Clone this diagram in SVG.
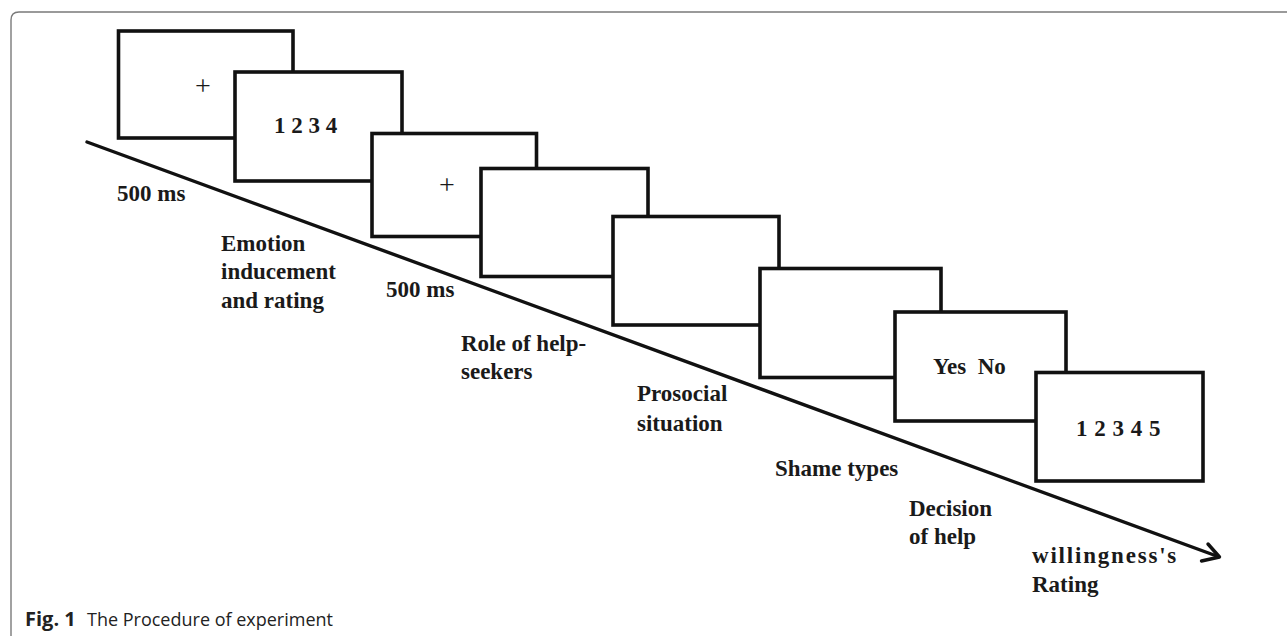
<svg xmlns="http://www.w3.org/2000/svg" width="1287" height="636" viewBox="0 0 1287 636">
<style>
.frame{fill:none;stroke:#7a7a7a;stroke-width:1.4}
.box{fill:#fff;stroke:#111;stroke-width:3.6}
.axis{fill:none;stroke:#111;stroke-width:3.4;stroke-linecap:round;stroke-linejoin:round}
.lbl{font-family:"Liberation Serif","Times New Roman",serif;font-weight:bold;font-size:23px;fill:#1a1a1a}
.plus{font-family:"Liberation Serif","Times New Roman",serif;font-size:28px;fill:#1a1a1a;text-anchor:middle}
.cap{font-family:"Open Sans","Noto Sans",sans-serif;font-size:19px;fill:#222}
</style>
<rect width="1287" height="636" fill="#fff"/>
<path class="frame" d="M11,636 L11,20 Q11,12 19,12 L1287,12"/>
<g id="connectors">
<path class="axis" d="M87,142 L1218,556.5"/>
<path class="axis" d="M1208,544 L1219.5,557 L1201.5,561"/>
</g>
<g id="screen1"><rect class="box" x="118.5" y="31" width="174.5" height="107"/><text class="plus" x="203" y="95">+</text></g>
<g id="screen2"><rect class="box" x="235" y="72" width="167" height="109"/><text class="lbl" x="274" y="133">1 2 3 4</text></g>
<g id="screen3"><rect class="box" x="372" y="133.5" width="164.5" height="103"/><text class="plus" x="447" y="194">+</text></g>
<g id="screen4"><rect class="box" x="481" y="168.5" width="167" height="108"/></g>
<g id="screen5"><rect class="box" x="613" y="216.5" width="166" height="108.5"/></g>
<g id="screen6"><rect class="box" x="760" y="268.5" width="181" height="109"/></g>
<g id="screen7"><rect class="box" x="895" y="312" width="171" height="109"/><text class="lbl" x="933" y="374" xml:space="preserve">Yes  No</text></g>
<g id="screen8"><rect class="box" x="1036" y="372.5" width="167" height="108.5"/><text class="lbl" x="1076" y="436" letter-spacing="0.5">1 2 3 4 5</text></g>
<g id="labels">
<text class="lbl" x="117" y="201">500 ms</text>
<text class="lbl" x="221" y="251">Emotion</text>
<text class="lbl" x="221" y="279">inducement</text>
<text class="lbl" x="221" y="308">and rating</text>
<text class="lbl" x="386" y="297">500 ms</text>
<text class="lbl" x="461" y="351">Role of help-</text>
<text class="lbl" x="461" y="379">seekers</text>
<text class="lbl" x="637" y="401">Prosocial</text>
<text class="lbl" x="637" y="431">situation</text>
<text class="lbl" x="775" y="476">Shame types</text>
<text class="lbl" x="909" y="516">Decision</text>
<text class="lbl" x="909" y="544">of help</text>
<text class="lbl" x="1032" y="563" letter-spacing="1.8">willingness's</text>
<text class="lbl" x="1032" y="592">Rating</text>
</g>
<text class="cap" x="25" y="626"><tspan font-weight="bold" font-size="20px">Fig. 1</tspan><tspan x="87" textLength="246" lengthAdjust="spacingAndGlyphs">The Procedure of experiment</tspan></text>
</svg>
